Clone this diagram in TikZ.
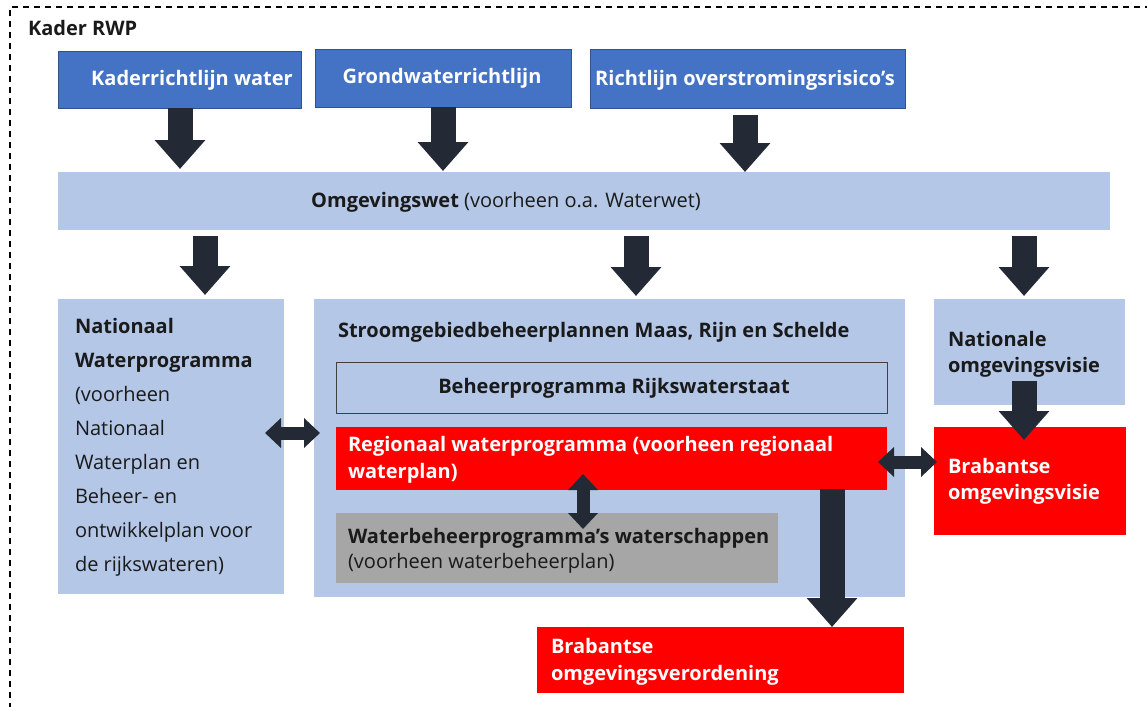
\documentclass[tikz,border=0pt]{standalone}
\usepackage{fontspec}
\setmainfont{Open Sans}
\usetikzlibrary{arrows.meta}
\definecolor{dblue}{HTML}{4472C4}
\definecolor{dbluedk}{HTML}{2F528F}
\definecolor{lblue}{HTML}{B4C7E7}
\definecolor{rred}{HTML}{FF0000}
\definecolor{ggray}{HTML}{A6A6A6}
\definecolor{arr}{HTML}{232A35}
\definecolor{txt}{HTML}{1A1A1A}
\tikzset{
  box/.style={inner sep=0pt, outer sep=0pt, anchor=north west},
  bluebox/.style={box, fill=dblue, draw=dbluedk, line width=0.8pt},
  lbbox/.style={box, fill=lblue},
  redbox/.style={box, fill=rred},
  graybox/.style={box, fill=ggray},
  tx/.style={inner sep=0pt, outer sep=0pt, text=txt, font=\fontsize{20}{24}\selectfont},
  wtx/.style={tx, text=white, font=\fontsize{20}{24}\selectfont\bfseries},
  bigarrow/.style={draw=arr, line width=25pt, -{Triangle[length=29pt,width=49pt]}},
  dblarrow/.style={draw=arr, line width=13pt, {Triangle[length=16pt,width=29pt]}-{Triangle[length=16pt,width=29pt]}},
}
\begin{document}
\begin{tikzpicture}[x=1pt,y=-1pt]
\useasboundingbox (0,0) rectangle (1147,706);
% frame
\draw[line width=1.3pt, dash pattern=on 6pt off 5pt] (10,720) -- (10,7) -- (1160,7);
\node[tx, anchor=west, font=\fontsize{20}{24}\selectfont\bfseries] (kader) at (28,28) {Kader RWP};
% top boxes
\node[bluebox, minimum width=243pt, minimum height=57pt] (krw) at (58,51) {};
\node[bluebox, minimum width=256pt, minimum height=58pt] (gwr) at (315,49) {};
\node[bluebox, minimum width=315pt, minimum height=59pt] (ror) at (590,49) {};
\node[wtx] (krwt) at (192,80) {Kaderrichtlijn water};
\node[wtx] (gwrt) at (442,78) {Grondwaterrichtlijn};
\node[wtx] (rort) at (745,80) {Richtlijn overstromingsrisico’s};
% omgevingswet
\node[lbbox, minimum width=1052pt, minimum height=58pt] (omg) at (58,172) {};
\node[tx] (omgt) at (506,202) {\textbf{Omgevingswet} (voorheen o.a. Waterwet)};
% row boxes
\node[lbbox, minimum width=226pt, minimum height=295pt] (nwp) at (58,299) {};
\node[lbbox, minimum width=591pt, minimum height=298pt] (sgb) at (314,299) {};
\node[lbbox, minimum width=191pt, minimum height=106pt] (nov) at (934,299) {};
\node[redbox, minimum width=192pt, minimum height=108pt] (bov) at (934,427) {};
\node[box, fill=lblue, draw=black!75, line width=0.8pt, minimum width=551pt, minimum height=51pt] (bpr) at (336,362) {};
\node[redbox, minimum width=551pt, minimum height=63pt] (rwp) at (336,427) {};
\node[graybox, minimum width=442pt, minimum height=70pt] (wbp) at (336,513) {};
\node[redbox, minimum width=367pt, minimum height=66pt] (bovd) at (537,627) {};
% texts
\node[tx, anchor=west, align=left, font=\fontsize{20}{34}\selectfont] (nwpt) at (75,447) {\textbf{Nationaal}\\\textbf{Waterprogramma}\\(voorheen\\Nationaal\\Waterplan en\\Beheer- en\\ontwikkelplan voor\\de rijkswateren)};
\node[tx, anchor=west, font=\fontsize{20}{24}\selectfont\bfseries] (sgbt) at (338,332) {Stroomgebiedbeheerplannen Maas, Rijn en Schelde};
\node[tx, font=\fontsize{20}{24}\selectfont\bfseries] (bprt) at (614,388) {Beheerprogramma Rijkswaterstaat};
\node[wtx, anchor=west, align=left, font=\fontsize{20}{27}\selectfont\bfseries] (rwpt) at (348,459.5) {Regionaal waterprogramma (voorheen regionaal\\waterplan)};
\node[tx, anchor=west, align=left, font=\fontsize{20}{25}\selectfont] (wbpt) at (348,550.5) {\textbf{Waterbeheerprogramma’s waterschappen}\\(voorheen waterbeheerplan)};
\node[tx, anchor=west, align=left, font=\fontsize{20}{26}\selectfont\bfseries] (novt) at (948,354) {Nationale\\omgevingsvisie};
\node[wtx, anchor=west, align=left, font=\fontsize{20}{26}\selectfont\bfseries] (bovt) at (948,481) {Brabantse\\omgevingsvisie};
\node[wtx, anchor=west, align=left, font=\fontsize{20}{27}\selectfont\bfseries] (bovdt) at (551,661.5) {Brabantse\\omgevingsverordening};
% arrow x positions
\coordinate (x1) at (180,0);
\coordinate (x2) at (443,0);
\coordinate (x3) at (745,0);
\coordinate (x4) at (205,0);
\coordinate (x5) at (636,0);
\coordinate (x6) at (1024,0);
\coordinate (x7) at (832,0);
\coordinate (x8) at (583,0);
\coordinate (y1) at (0,433);
\coordinate (y2) at (0,462);
% arrows
\draw[bigarrow, shorten >=3pt] (krw.south -| x1) -- (omg.north -| x1);
\draw[bigarrow, shorten >=1pt] (gwr.south -| x2) -- (omg.north -| x2);
\draw[bigarrow, shorten <=7pt] (ror.south -| x3) -- (omg.north -| x3);
\draw[bigarrow, shorten <=6pt, shorten >=4pt] (omg.south -| x4) -- (nwp.north -| x4);
\draw[bigarrow, shorten <=6pt, shorten >=3pt] (omg.south -| x5) -- (sgb.north -| x5);
\draw[bigarrow, shorten <=6pt, shorten >=3pt] (omg.south -| x6) -- (nov.north -| x6);
\draw[bigarrow, shorten <=-24pt, shorten >=-13pt] (nov.south -| x6) -- (bov.north -| x6);
\draw[bigarrow, shorten <=-1pt] (rwp.south -| x7) -- (bovd.north -| x7);
\draw[dblarrow, shorten <=-19pt, shorten >=-6pt] (nwp.east |- y1) -- (sgb.west |- y1);
\draw[dblarrow, shorten <=-9pt, shorten >=-3pt] (rwp.east |- y2) -- (bov.west |- y2);
\draw[dblarrow, shorten <=-16pt, shorten >=-16pt] (rwp.south -| x8) -- (wbp.north -| x8);
\end{tikzpicture}
\end{document}
